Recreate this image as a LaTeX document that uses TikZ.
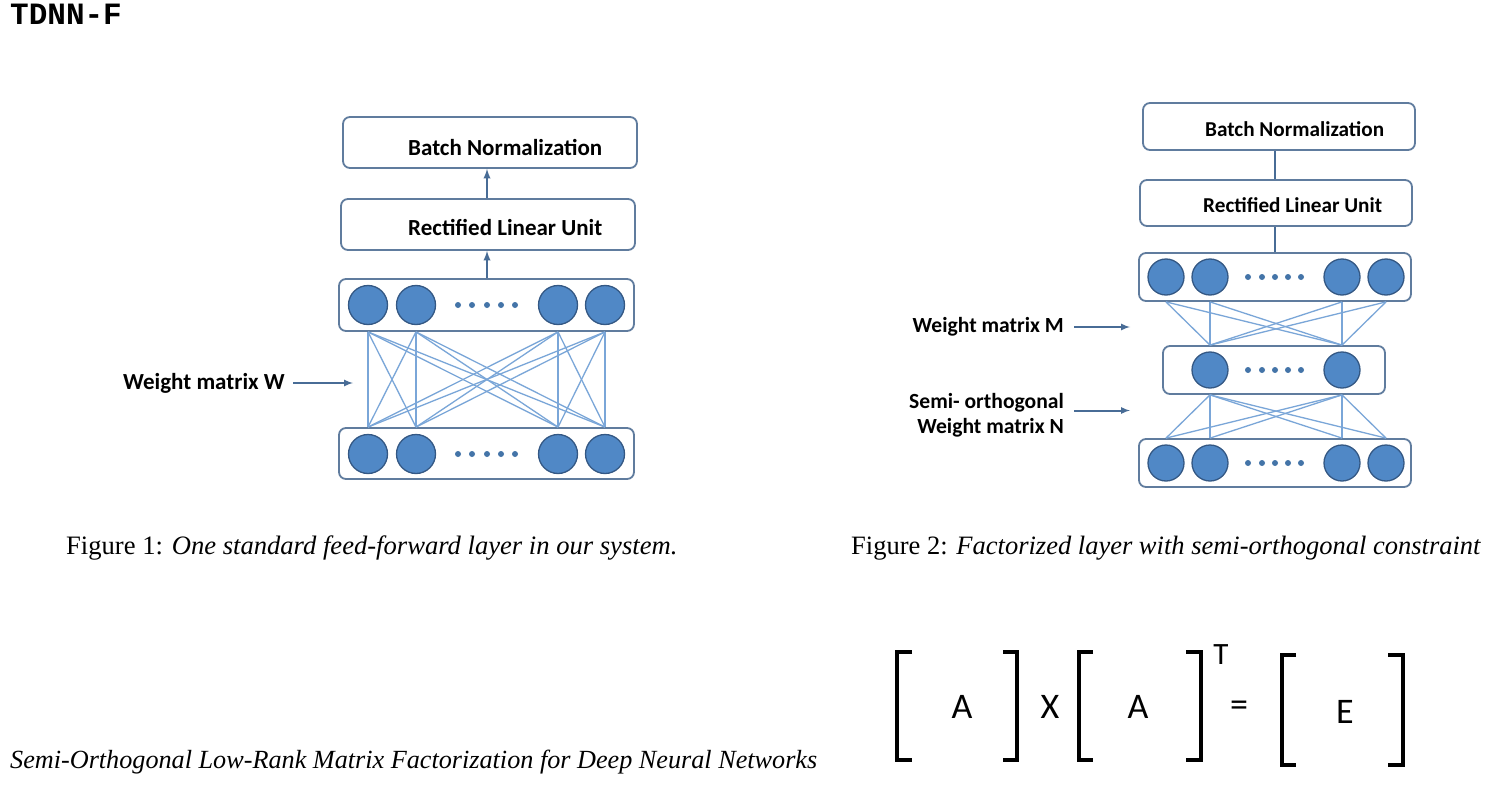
\documentclass[tikz,border=0pt]{standalone}
\usepackage{fontspec}
\setmainfont{Liberation Serif}
\newfontfamily\calfont{Carlito}
\newfontfamily\codefont{Liberation Mono}
\usepackage{tikz}
\usetikzlibrary{arrows,calc,positioning}

\definecolor{boxline}{RGB}{96,124,158}
\definecolor{unitfill}{RGB}{80,136,198}
\definecolor{unitline}{RGB}{52,88,132}
\definecolor{wirecol}{RGB}{122,166,216}
\definecolor{pointcol}{RGB}{72,108,150}

\tikzset{
  layer/.style={draw=boxline, line width=1.8pt, rounded corners=7pt, fill=white, inner sep=0pt},
  unit/.style={circle, draw=unitline, fill=unitfill, line width=1.3pt, inner sep=0pt},
  dot/.style={circle, fill=unitfill!85!black, minimum size=6pt, inner sep=0pt},
  wire/.style={draw=wirecol, line width=1.3pt},
  flow/.style={draw=pointcol, line width=2pt},
  pointer/.style={->, >=latex, draw=pointcol, line width=2pt},
  note/.style={inner sep=0pt, font=\calfont\bfseries\fontsize{23}{26}\selectfont},
  caption/.style={inner sep=0pt, anchor=base west, font=\fontsize{26.6}{30}\selectfont},
  eqsym/.style={inner sep=0pt, font=\calfont\fontsize{36}{40}\selectfont},
  bracket/.style={line width=4pt}
}

\begin{document}
\begin{tikzpicture}[x=1pt, y=-1pt]
   \fill[white] (0,0) rectangle (1497,792);
   \useasboundingbox (0,0) rectangle (1497,792);

   \node[inner sep=0pt, anchor=base west, font=\codefont\bfseries\fontsize{31}{34}\selectfont] (title) at (10,25) {TDNN-F};

   % Figure 1
   \node[layer, minimum width=294pt, minimum height=51pt] (bn1) at (490,142.5) {};
   \node[layer, minimum width=294pt, minimum height=51pt] (relu1) at (488,224.5) {};
   \node[layer, minimum width=295pt, minimum height=52pt] (top1) at (486.5,305) {};
   \node[layer, minimum width=295pt, minimum height=51pt] (bot1) at (486.5,453.5) {};
   \node[note, anchor=base west] at (408,155) {Batch Normalization};
   \node[note, anchor=base west] at (408,235) {Rectified Linear Unit};
   \draw[pointer, line width=2.2pt] (relu1.north -| 487,0) -- (bn1.south -| 487,0);
   \draw[pointer, line width=2.2pt] (top1.north -| 487,0) -- (relu1.south -| 487,0);

   \begin{scope}[every node/.style={unit, minimum size=39pt}]
    \node (a1) at (368,305) {};
    \node (a2) at (416,305) {};
    \node (a3) at (558,305) {};
    \node (a4) at (605,305) {};
    \node (b1) at (368,454) {};
    \node (b2) at (416,454) {};
    \node (b3) at (558,454) {};
    \node (b4) at (605,454) {};
   \end{scope}
   \foreach \x in {458,472,487,501,515} {
    \node[dot] at (\x,305) {};
    \node[dot] at (\x,454) {};
   }
   \foreach \i in {1,...,4}
    \foreach \j in {1,...,4}
     \draw[wire] (a\i |- top1.south) -- (b\j |- bot1.north);

   \node[note, anchor=east] (wW) at (285,383) {Weight matrix W};
   \draw[pointer] ([xshift=8pt]wW.east) -- ([xshift=68pt]wW.east);

   \node[caption] (cap1) at (66,554) {Figure 1: \textit{One standard feed-forward layer in our system.}};

   % Figure 2
   \node[layer, minimum width=272pt, minimum height=47pt] (bn2) at (1279,126.5) {};
   \node[layer, minimum width=272pt, minimum height=46pt] (relu2) at (1276,203) {};
   \node[layer, minimum width=272pt, minimum height=48pt] (top2) at (1275,277) {};
   \node[layer, minimum width=222pt, minimum height=48pt] (mid2) at (1274,370) {};
   \node[layer, minimum width=272pt, minimum height=48pt] (bot2) at (1275,463) {};
   \node[note, anchor=base west, font=\calfont\bfseries\fontsize{21.2}{24}\selectfont] at (1205,136) {Batch Normalization};
   \node[note, anchor=base west, font=\calfont\bfseries\fontsize{21.2}{24}\selectfont] at (1203,212) {Rectified Linear Unit};
   \draw[flow] (relu2.north -| 1275,0) -- (bn2.south -| 1275,0);
   \draw[flow] (top2.north -| 1275,0) -- (relu2.south -| 1275,0);

   \begin{scope}[every node/.style={unit, minimum size=36pt}]
    \node (p1) at (1166,277) {};
    \node (p2) at (1210,277) {};
    \node (p3) at (1342,277) {};
    \node (p4) at (1386,277) {};
    \node (q1) at (1210,370) {};
    \node (q2) at (1342,370) {};
    \node (r1) at (1166,463) {};
    \node (r2) at (1210,463) {};
    \node (r3) at (1342,463) {};
    \node (r4) at (1386,463) {};
   \end{scope}
   \foreach \x in {1248,1262,1275,1288,1301} {
    \node[dot] at (\x,277) {};
    \node[dot] at (\x,370) {};
    \node[dot] at (\x,463) {};
   }
   \foreach \i in {1,...,4}
    \foreach \j in {1,2} {
     \draw[wire] (p\i |- top2.south) -- (q\j |- mid2.north);
     \draw[wire] (q\j |- mid2.south) -- (r\i |- bot2.north);
    }

   \node[note, anchor=east, font=\calfont\bfseries\fontsize{21.6}{25}\selectfont] (wM) at (1064,327) {Weight matrix M};
   \draw[pointer] ([xshift=10pt]wM.east) -- ([xshift=66pt]wM.east);
   \node[note, anchor=east, align=right, font=\calfont\bfseries\fontsize{21.6}{25}\selectfont] (wN) at (1064,415.5) {Semi- orthogonal\\Weight matrix N};
   \draw[pointer] ([xshift=10pt, yshift=5pt]wN.east) -- ([xshift=66pt, yshift=5pt]wN.east);

   \node[caption, font=\fontsize{26.5}{30}\selectfont] (cap2) at (851,554) {Figure 2: \textit{Factorized layer with semi-orthogonal constraint}};

   % paper title
   \node[caption, font=\itshape\fontsize{26.2}{30}\selectfont] (paper) at (10,768) {Semi-Orthogonal Low-Rank Matrix Factorization for Deep Neural Networks};

   % A x A^T = E
   \draw[bracket] (912,652) -- (897,652) -- (897,760) -- (912,760);
   \draw[bracket] (1003,652) -- (1017,652) -- (1017,760) -- (1003,760);
   \draw[bracket] (1093,652) -- (1079,652) -- (1079,760) -- (1093,760);
   \draw[bracket] (1186,652) -- (1201,652) -- (1201,760) -- (1186,760);
   \draw[bracket] (1296,655) -- (1282,655) -- (1282,765) -- (1296,765);
   \draw[bracket] (1388,655) -- (1403,655) -- (1403,765) -- (1388,765);
   \node[eqsym] (m1) at (962,707) {A};
   \node[eqsym] (times) at (1050,707) {X};
   \node[eqsym] (m2) at (1138,707) {A};
   \node[eqsym, font=\calfont\fontsize{31}{34}\selectfont] (tr) at (1221,655) {T};
   \node[eqsym] (eq) at (1239,709) {=};
   \node[eqsym] (m3) at (1345,712) {E};
\end{tikzpicture}
\end{document}
